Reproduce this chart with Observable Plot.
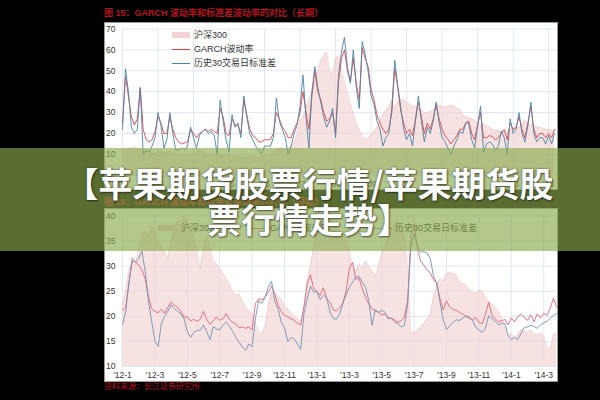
<!DOCTYPE html>
<html><head><meta charset="utf-8">
<script src="https://cdn.jsdelivr.net/npm/d3@7"></script>
<script src="https://cdn.jsdelivr.net/npm/@observablehq/plot@0.6"></script>
<style>
html,body{margin:0;padding:0;background:#000;}
#root{position:relative;width:600px;height:400px;overflow:hidden;background:#000;font-family:"Liberation Sans","Noto Sans CJK SC",sans-serif;}
.panel{position:absolute;background:#fff;outline:1px solid #9a9a9a;outline-offset:-1px;}
.panel svg{display:block;}
.title{position:absolute;left:104px;color:#b3141f;font-size:9px;font-weight:bold;white-space:nowrap;line-height:1;}
.src{position:absolute;left:104px;top:383px;color:#b3141f;font-size:8px;white-space:nowrap;line-height:1;}
.lg{position:absolute;font-size:9px;color:#333;white-space:nowrap;line-height:14px;height:14px;}
.sw{position:absolute;width:18px;}
.banner{position:absolute;left:0;top:148px;width:600px;height:103px;background:rgba(139,170,77,0.647);z-index:10;display:flex;flex-direction:column;align-items:center;justify-content:center;box-sizing:border-box;padding-left:18px;padding-top:3px;}
.banner div{color:#fff;font-family:"Noto Sans CJK SC";font-weight:bold;font-size:34px;line-height:36px;white-space:nowrap;text-shadow:0 0 2px rgba(40,40,40,0.8),1px 1px 2px rgba(0,0,0,0.5);}
</style>
</head><body>
<div id="root">
  <div class="title" style="top:9px">图 15：GARCH 波动率和标准差波动率的对比（长期）</div>
  <div class="panel" id="topPanel" style="left:104px;top:22px;width:454px;height:168px"></div>
  <div class="title" style="top:197.5px">图 16：GARCH 波动率和标准差波动率的对比（短期）</div>
  <div class="panel" id="botPanel" style="left:104px;top:208px;width:454px;height:174px"></div>
  <div class="src">资料来源：长江证券研究所</div>

  <div class="sw" style="left:172px;top:32px;height:6px;background:#f3d3d3"></div>
  <div class="lg" style="left:194px;top:28px">沪深300</div>
  <div class="sw" style="left:172px;top:49px;height:1px;background:#e0454c"></div>
  <div class="lg" style="left:194px;top:42px">GARCH波动率</div>
  <div class="sw" style="left:172px;top:63px;height:1px;background:#4c84a6"></div>
  <div class="lg" style="left:194px;top:56px">历史30交易日标准差</div>

  <div class="sw" style="left:158px;top:225px;height:6px;background:#f3d3d3"></div>
  <div class="lg" style="left:181px;top:221px">沪深300</div>
  <div class="sw" style="left:249px;top:228px;height:1px;background:#e0647a"></div>
  <div class="lg" style="left:270px;top:221px">GARCH波动率</div>
  <div class="sw" style="left:374px;top:228px;height:1px;background:#7393b3"></div>
  <div class="lg" style="left:395px;top:221px">历史30交易日标准差</div>

  <div class="banner"><div>【苹果期货股票行情/苹果期货股</div><div>票行情走势】</div></div>
</div>
<script>
// ---- Long-term chart (monthly, Jan 2002 onward) ----
const topYearLabels = ["'02","'03","'04","'05","'06","'07","'08","'09","'10","'11","'12","'13","'14"];
const topYTicks = [0,10,20,30,40,50,60,70];
const topGarch = [
25,47,38,28,24,27,42,22,17,16,17,21,
28,25,20,20,28,22,18,16,15,15.5,16,22,
20,18,20,21,22,21,22,21,20,32,28,20,
19,27,24,24,20,36,29,22,19,18,16,16,
17,17,17,20,30,27,23,21,18,18,22,25,
30,40,30,22,38,50,40,36,30,26,27,30,
20,45,56,60,50,45,56,44,36,61,56,52,
41,36,29,25,22,20,22,30,51,42,31,25,
20,22,19,27,35,28,20,25,22,27,34,27,
22,19,17,15,17,19,22,22,25,26,20,17,
24,30,18,18,19,18.5,17,18,20,22,17,25,
22,23,28,22,18,25,33,22,18,20,20,18,
20,18,22];
const topStd = [
22,51,40,23,20,22,42,10,12,11,14,18,
30,24,13,17,30,20,12,12,13,12,14,23,
18,13,19,21,22,20,21,19,10,36,26,17,
11,29,23,25,18,38,28,20,17,14,12,10,
14,14,14,18,37,26,22,18,10,14,20,24,
33,48,28,13,40,52,42,35,28,23,26,32,
18,48,59,66,52,44,60,42,32,64,58,50,
38,34,26,22,14,18,20,32,55,43,33,22,
17,20,14,26,38,26,16,23,20,26,35,25,
18,16,13,10,14,17,21,20,25,25,17,13,
24,33,11,15,16,15,12,14,21,18,10,27,
20,22,30,20,16,24,35,20,16,18,18,15,
19,15,20];
const topHs300 = [
12,12.5,13,13,13.5,13,12.5,12,11.5,11,10.5,10.5,
11,11.5,11,11,11.5,11,10.5,10,10,9.5,9.5,10,
10.5,11,11.5,11.5,10.5,10,10,9.5,9.5,9.5,9.5,9.5,
9.5,9.5,9,9,8.5,8.5,9,9,9,8.5,8.5,9,
9.5,10,10,11,12.5,13,13,12.5,13,14,15.5,20,
26,28,32,36,40,45,50,55,57,59,50,48,
56,57,50,45,40,34,30,25,22,19,17,18,
19,21,23,26,29,31,33,36,32,35,36.5,36,
35,34,33,33,32,31.5,30,30,30.5,31,33,33.5,
33,32.5,33,33.5,33,32,31.5,29,28,27.5,27,26.5,
25,24,24.5,23.5,23,22,21.5,21.5,21,21,21,21.5,
22,22.5,23,24.5,26.5,25,24,23.5,23,23,22.5,22,
22,21.5,21.5];

// ---- Short-term chart (every 0.2 month from Jan 2012) ----
const botMonthLabels = ["'12-1","'12-3","'12-5","'12-7","'12-9","'12-11","'13-1","'13-3","'13-5","'13-7","'13-9","'13-11","'14-1","'14-3"];
const botYTicks = [10,15,20,25,30,35,40];
const botStep = 0.2;
const botStd = [
18.4,21,27,31,30.8,31.5,33,29,23,19,
15,14,18.5,20,21,22.3,21.5,21,20.5,19.5,
17,15.8,16.8,17.2,17.2,18.3,17,15.3,18,17.5,
17.3,18.2,18.9,18,17,15.8,14.8,13.9,13.2,14.5,
13.9,19.5,23.1,22.6,23.8,25.8,27,23,21.5,18.8,
17.8,15,15.8,15.5,14.5,13.4,20.5,23.5,26,24.8,
25,23.3,24.2,23.8,21,19.6,19.4,20.5,22.5,24.3,
25.8,26.8,27.8,28,26.8,25.8,23.1,18.2,21.3,20.8,
21.2,20.8,19.5,19.6,18.8,18.6,17.9,18.1,22.5,34,
36.5,34,32.8,32.9,32.6,31.5,28,26.5,22.8,19.2,
17.4,18.1,18.8,19.3,19.2,19.6,20.1,19.9,19.3,17.8,
17.3,16.8,17.6,20.1,19.6,19,18.3,18.6,18.6,16.2,
15.3,15.8,15.4,16.6,17.8,17.9,18.2,18,17.6,18.3,
18.7,19,19.6,20.2,20.6];
const botGarch = [
21.2,21.8,26.5,31.6,30.8,30.2,29.3,27.5,24,21.5,
21,20.7,21.4,20.6,21.8,22.9,22.2,21.8,21,19.8,
19.9,19.1,19.4,19,19.4,21,19.4,18.4,19.1,19.9,
19.2,19.5,20.5,19.4,18.8,18.5,17.7,17.9,17.6,17.9,
17.3,22.5,23.5,23.3,23.8,24.8,26,24.5,22.2,21,
20.2,19.9,19.5,19.2,18.6,18.3,22,26.5,28.3,25.5,
24.9,24.2,25.7,23.5,22.8,21.3,21.1,21.7,22.6,25,
29.5,30.8,27.4,27.6,25.5,23.8,22.5,21.5,21.1,20.8,
20.3,20.4,19.8,19.6,19.3,18.8,19.1,19.8,23,36,
38.5,33.5,31,30.2,29.3,28.6,27.3,26.6,23.5,21.3,
23.1,21.8,21.4,21.2,20.8,20.4,20,19.6,19.3,19.8,
18.8,18.5,20.3,22.8,20.3,19.5,18.9,19.1,19.4,18.3,
19.7,18.9,19.9,20.4,19.8,19.2,20.3,18.9,20.5,19.7,
20.6,20.2,21.6,23.6,21.8];
const botHs300 = [
22.5,25,29,31,30,33.5,36,37,36,38,
37,35,34,33,31.5,35,37,39,38,40,
39,37,36,33,29.5,34,36,34,31,30.5,
29.5,28.5,27.5,26.5,25,24,24.5,23,22,21,
20.5,18.5,17,16.5,18,22,25,24.5,24,23.5,
22,21.5,20.5,20,19.5,19,21,27,30,34,
37,38,39,40,39,38.5,38,37,36,35,
33,30,29,30.5,29.5,31,30,29,28,30,
32.5,34,36,37,38.5,39,38,36,30,16.5,
16.8,17.2,17.8,18.5,19.5,20.5,24,26.5,27.5,27,
28.5,28.8,28.5,28.2,27,26.5,26.2,25.5,24.8,24.5,
25.3,25,23.8,23,22.5,21.8,21,19.8,17.5,16.2,
16.5,15.8,16.3,17.4,17,16.8,17.3,16.5,16.2,16.8,
16,13.8,13.3,16.3,16.6];

const gridColor = "#e2e7ef";
const axisStyle = {background:"transparent", fontSize:"8.5px", fontFamily:"Liberation Sans, Arial, sans-serif", color:"#333", overflow:"visible"};

const topData = topGarch.map((g,i)=>({m:i, garch:g, std:topStd[i], hs:topHs300[i]}));
const topXTicks = topYearLabels.map((_,i)=>i*12);
const topChart = Plot.plot({
  width:454, height:168, marginLeft:18, marginRight:1, marginTop:6.5, marginBottom:15.2,
  style:axisStyle,
  x:{type:"linear", domain:[0,147], label:null},
  y:{domain:[0,70], label:null},
  marks:[
    Plot.gridY(topYTicks,{stroke:gridColor, strokeOpacity:1}),
    Plot.gridX(topXTicks,{stroke:gridColor, strokeOpacity:1}),
    Plot.areaY(topData,{x:"m", y:"hs", fill:"#f3d3d3", fillOpacity:0.65}),
    Plot.lineY(topData,{x:"m", y:"hs", stroke:"#efc4c4", strokeWidth:0.6}),
    Plot.lineY(topData,{x:"m", y:"garch", stroke:"#e0454c", strokeWidth:0.9}),
    Plot.lineY(topData,{x:"m", y:"std", stroke:"#4c84a6", strokeWidth:0.9}),
    Plot.axisY(topYTicks,{tickSize:0, tickPadding:7}),
    Plot.axisX(topXTicks,{tickSize:0, tickPadding:6, tickFormat:d=>topYearLabels[d/12]})
  ]
});
document.getElementById("topPanel").appendChild(topChart);

const botData = botGarch.map((g,i)=>({m:i*botStep, garch:g, std:botStd[i], hs:botHs300[i]}));
const botXTicks = botMonthLabels.map((_,i)=>i*2);
const botChart = Plot.plot({
  width:454, height:174, marginLeft:18, marginRight:1, marginTop:7.5, marginBottom:16,
  style:axisStyle,
  x:{type:"linear", domain:[0,26.85], label:null},
  y:{domain:[10,40], label:null},
  marks:[
    Plot.gridY(botYTicks,{stroke:gridColor, strokeOpacity:1}),
    Plot.gridX(botXTicks,{stroke:gridColor, strokeOpacity:1}),
    Plot.areaY(botData,{x:"m", y:"hs", fill:"#f3d3d3", fillOpacity:0.65, clip:true}),
    Plot.lineY(botData,{x:"m", y:"hs", stroke:"#efc4c4", strokeWidth:0.6, clip:true}),
    Plot.lineY(botData,{x:"m", y:"garch", stroke:"#e0647a", strokeWidth:0.9}),
    Plot.lineY(botData,{x:"m", y:"std", stroke:"#7393b3", strokeWidth:0.9}),
    Plot.axisY(botYTicks,{tickSize:0, tickPadding:7}),
    Plot.axisX(botXTicks,{tickSize:0, tickPadding:5, tickFormat:d=>botMonthLabels[d/2]})
  ]
});
document.getElementById("botPanel").appendChild(botChart);
</script>
</body></html>
